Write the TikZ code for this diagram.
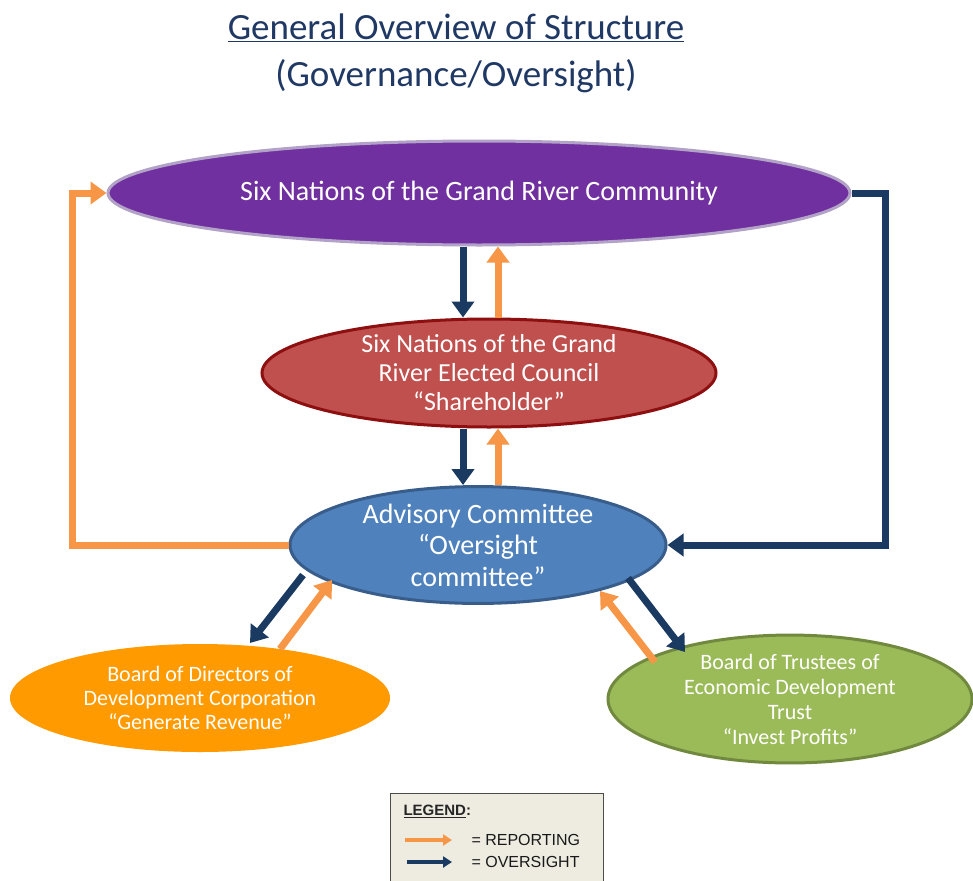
\documentclass[tikz,border=0pt]{standalone}
\usepackage{fontspec}
\setmainfont{Carlito}
\newfontfamily\legendfont{Liberation Sans}
\usetikzlibrary{arrows.meta,shapes.geometric,calc}

\definecolor{navyline}{HTML}{1B3A62}
\definecolor{orangeline}{HTML}{F79646}
\definecolor{titleblue}{HTML}{1F3864}
\definecolor{purplefill}{HTML}{7030A0}
\definecolor{purpleedge}{HTML}{B3A2C7}
\definecolor{redfill}{HTML}{C0504D}
\definecolor{rededge}{HTML}{8E0F0F}
\definecolor{bluefill}{HTML}{4F81BD}
\definecolor{blueedge}{HTML}{385D8A}
\definecolor{orangefill}{HTML}{FF9A00}
\definecolor{greenfill}{HTML}{9BBB59}
\definecolor{greenedge}{HTML}{71893F}
\definecolor{legendfill}{HTML}{EEECE1}

\tikzset{
  oval/.style={ellipse, inner sep=0pt, text=white, align=center, line width=3pt},
  oversight/.style={draw=navyline, line width=7pt,
    -{Triangle[length=16pt,width=22pt]}},
  reporting/.style={draw=orangeline, line width=7pt,
    -{Triangle[length=16pt,width=22pt]}},
  legarrow/.style={line width=3.5pt, -{Triangle[length=9pt,width=11pt]}}
}

\begin{document}
\begin{tikzpicture}[x=1pt,y=-1pt]
\useasboundingbox[fill=white] (0,0) rectangle (973,880);

% title
\node[text=titleblue, font=\fontsize{37}{47}\selectfont, align=center] (title) at (456,53)
  {\underline{General Overview of Structure}\\(Governance/Oversight)};

% organisational bodies
\node[oval, draw=purpleedge, fill=purplefill, minimum width=742pt, minimum height=104pt,
      font=\fontsize{28}{32}\selectfont] (community) at (479,193)
  {Six Nations of the Grand River Community};
\node[oval, draw=rededge, fill=redfill, minimum width=454pt, minimum height=108pt,
      font=\fontsize{26}{29}\selectfont] (council) at (489,373)
  {Six Nations of the Grand\\River Elected Council\\“Shareholder”};
\node[oval, draw=blueedge, fill=bluefill, minimum width=376pt, minimum height=106pt,
      font=\fontsize{28}{31.5}\selectfont] (advisory) at (478,545)
  {Advisory Committee\\“Oversight\\committee”};
\node[oval, draw=none, fill=orangefill, minimum width=380pt, minimum height=108pt,
      font=\fontsize{22}{24}\selectfont] (devcorp) at (200,698)
  {Board of Directors of\\Development Corporation\\“Generate Revenue”};
\node[oval, draw=greenedge, fill=greenfill, minimum width=364pt, minimum height=106pt,
      font=\fontsize{22}{25}\selectfont] (trust) at (790,699)
  {Board of Trustees of\\Economic Development\\Trust\\“Invest Profits”};

% vertical connectors between the central bodies
\coordinate (downx) at (463,0);
\coordinate (upx) at (498,0);
\draw[oversight] (downx |- community.south) -- (downx |- council.north);
\draw[reporting] (upx |- council.north) -- (upx |- community.south);
\draw[oversight] (downx |- council.south) -- (downx |- advisory.north);
\draw[reporting] (upx |- advisory.north) -- (upx |- council.south);

% outer loops
\coordinate (leftx) at (72,0);
\coordinate (rightx) at (885,0);
\draw[reporting, line join=miter] (advisory.west) -- (advisory.west -| leftx) |- (community.west);
\draw[oversight, line join=miter] (community.east) -- (community.east -| rightx) |- (advisory.east);

% diagonal connectors to the boards
\draw[oversight] ($(advisory.center)+(-175,30)$) -- ($(devcorp.center)+(50,-55)$);
\draw[reporting] ($(devcorp.center)+(80,-49)$) -- ($(advisory.center)+(-146,35)$);
\draw[oversight] ($(advisory.center)+(150,33)$) -- ($(trust.center)+(-105,-47)$);
\draw[reporting] ($(trust.center)+(-135,-37)$) -- ($(advisory.center)+(122,46)$);

% legend
\draw[draw=black!70, fill=legendfill, line width=1pt] (390,793) rectangle (603,900);
\node[anchor=west, font=\legendfont\bfseries\fontsize{15}{17}\selectfont, text=black!85] (legtitle)
  at (400,811) {\underline{LEGEND}:};
\coordinate (rs) at (405,840);
\coordinate (re) at (452,840);
\coordinate (os) at (407,862);
\coordinate (oe) at (452,862);
\draw[legarrow, orangeline] (rs) -- (re);
\draw[legarrow, navyline] (os) -- (oe);
\node[anchor=west, font=\legendfont\fontsize{16}{18}\selectfont, text=black!90] (legrep)
  at (468,840) {= REPORTING};
\node[anchor=west, font=\legendfont\fontsize{16}{18}\selectfont, text=black!90] (legovs)
  at (468,862) {= OVERSIGHT};
\end{tikzpicture}
\end{document}
